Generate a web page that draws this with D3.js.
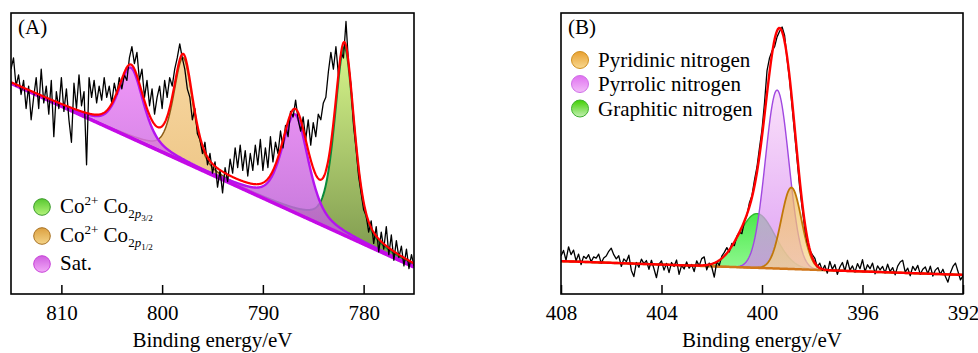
<!DOCTYPE html>
<html>
<head>
<meta charset="utf-8">
<script src="https://cdn.jsdelivr.net/npm/d3@7/dist/d3.min.js"></script>
<style>
  body { margin: 0; background: #fff; }
  svg text { font-family: "Liberation Serif", "Times New Roman", serif; fill: #000; }
</style>
</head>
<body>
<svg id="chart" width="978" height="353"></svg>
<script>
// ---------- Panel A : Co 2p ----------
const coRange = [815, 775];            // binding energy of first / last raw point
const coRaw = [
  80, 84, 74, 78, 71, 76, 66, 74, 62, 70, 77, 66, 80, 68, 74, 64, 76, 56, 72, 66,
  77, 65, 73, 62, 54, 75, 66, 78, 67, 72, 46, 77, 70, 76, 68, 74, 69, 77, 70, 74,
  68, 75, 71, 77, 73, 78, 76, 84, 88, 82, 86, 76, 80, 70, 76, 67, 73, 64, 70, 74,
  66, 76, 70, 77, 74, 80, 84, 89, 84, 80, 73, 70, 62, 66, 57, 55, 50, 54, 46, 50,
  43, 47, 38, 44, 36, 45, 40, 48, 43, 52, 45, 53, 44, 51, 42, 50, 44, 53, 46, 55,
  44, 52, 45, 56, 47, 54, 50, 58, 52, 60, 56, 65, 63, 69, 62, 58, 63, 55, 62, 53,
  61, 56, 64, 62, 68, 70, 79, 86, 80, 88, 78, 86, 84, 97, 82, 74, 60, 52, 42, 36,
  30, 28, 22, 26, 18, 24, 15, 22, 16, 24, 14, 21, 12, 19, 13, 17, 10, 16, 9, 14, 10
];
const coBackground = [75.0, 9.6];      // linear background at 815 and 775 eV
const coPeaks = [
  { key: 'p32', center: 781.9, height: 67, fwhm: 2.3 },
  { key: 'p12', center: 797.9, height: 37, fwhm: 2.3 },
  { key: 'sat', center: 803.1, height: 25, fwhm: 2.9 },
  { key: 'sat', center: 786.8, height: 35, fwhm: 3.1 }
];
const coTicks = [810, 800, 790, 780];

// ---------- Panel B : N 1s ----------
const nRange = [408, 392];
const nRaw = [
  13.5, 15.5, 12.0, 16.8, 14.0, 15.6, 11.8, 14.2, 10.5, 13.4,
  12.6, 14.0, 11.5, 13.2, 12.8, 14.2, 11.0, 12.8, 13.5, 15.2,
  16.3, 14.0, 12.5, 13.6, 9.8, 12.5, 11.5, 13.8, 8.4, 6.2,
  11.2, 9.5, 12.4, 10.8, 11.9, 8.8, 12.0, 9.0, 5.8, 10.6,
  11.8, 8.5, 10.9, 7.6, 11.2, 9.8, 12.1, 7.0, 10.2, 8.9,
  11.4, 9.2, 10.5, 8.0, 11.8, 10.0, 12.6, 13.2, 8.6, 11.0,
  9.6, 6.0, 11.5, 10.2, 13.5, 14.8, 16.5, 15.0, 18.0, 17.2,
  20.5, 22.0, 21.5, 25.8, 28.0, 32.5, 35.0, 40.5, 45.2, 52.0,
  58.5, 68.0, 79.5, 84.0, 86.5, 88.0, 91.5, 93.5, 95.0, 92.0,
  83.5, 76.0, 66.5, 57.0, 47.5, 38.0, 30.5, 23.5, 18.5, 15.5,
  14.0, 12.8, 9.6, 11.0, 8.4, 10.2, 7.4, 11.6, 8.8, 10.5,
  7.0, 9.6, 11.2, 8.2, 12.0, 8.5, 10.0, 7.8, 10.8, 9.0,
  12.2, 8.0, 10.4, 9.0, 11.0, 7.2, 10.0, 8.6, 9.8, 7.5,
  10.6, 8.0, 9.4, 6.8, 9.9, 11.4, 12.0, 7.8, 9.2, 6.5,
  9.8, 8.4, 10.2, 7.0, 8.8, 9.6, 7.2, 9.9, 6.4, 8.5,
  9.4, 7.0, 8.8, 6.2, 4.2, 7.6, 9.8, 11.0, 8.0, 5.0, 6.5
];
const nBackground = [11.7, 6.8];
const nPeaks = [
  { key: 'graphitic', center: 400.2, height: 19.3, fwhm: 1.7 },
  { key: 'pyrrolic', center: 399.4, height: 63.5, fwhm: 1.1 },
  { key: 'pyridinic', center: 398.83, height: 29, fwhm: 0.95 }
];
const nTicks = [408, 404, 400, 396, 392];

const serif = '"Liberation Serif", "Times New Roman", serif';
const svg = d3.select('#chart');
const defs = svg.append('defs');

function gradient(id, top, bottom) {
  const g = defs.append('linearGradient').attr('id', id)
    .attr('x1', 0).attr('y1', 0).attr('x2', 0).attr('y2', 1);
  g.append('stop').attr('offset', '0%').attr('stop-color', top);
  g.append('stop').attr('offset', '100%').attr('stop-color', bottom);
}
// component fills
gradient('fA_p32', '#d2f47e', '#6c8a38');
gradient('fA_p12', '#f6d090', '#e4b060');
gradient('fA_sat', '#ec84f6', '#b058cc');
gradient('fB_graphitic', '#38e838', '#8cf88c');
gradient('fB_pyrrolic', '#f8d4f8', '#d27ef0');
gradient('fB_pyridinic', '#f0be58', '#f8d894');
// legend dots
gradient('lA_p32', '#58c830', '#b4f47a');
gradient('lA_p12', '#dca040', '#f4d488');
gradient('lA_sat', '#d060e0', '#f2a8f8');
gradient('lB_pyridinic', '#e8a030', '#f8d890');
gradient('lB_pyrrolic', '#e070f0', '#f2bcf8');
gradient('lB_graphitic', '#40d000', '#c4f0b4');

function pseudoVoigt(e, p, eta) {
  const d = e - p.center, hw = p.fwhm / 2;
  const gauss = Math.exp(-Math.LN2 * (d / hw) * (d / hw));
  const lor = 1 / (1 + (d / hw) * (d / hw));
  return p.height * (eta * lor + (1 - eta) * gauss);
}

function drawPanel(cfg) {
  const x = d3.scaleLinear().domain(cfg.range).range([cfg.left, cfg.right]);
  const y = d3.scaleLinear().domain([0, 100]).range([294, 13]);
  const bg = d3.scaleLinear().domain(cfg.range).range(cfg.background);
  const g = svg.append('g');

  const clipId = 'clip' + cfg.id;
  defs.append('clipPath').attr('id', clipId).append('rect')
    .attr('x', cfg.left).attr('y', 13).attr('width', cfg.right - cfg.left).attr('height', 281);
  const plot = g.append('g').attr('clip-path', `url(#${clipId})`);

  const lo = Math.min(...cfg.range), hi = Math.max(...cfg.range);
  const grid = d3.range(hi, lo - 0.001, -0.04);

  // fitted components
  cfg.peaks.forEach(p => {
    const st = cfg.styles[p.key];
    const pts = grid.map(e => ({ e, b: bg(e), v: pseudoVoigt(e, p, cfg.eta) }));
    plot.append('path').datum(pts)
      .attr('fill', `url(#f${cfg.id}_${p.key})`)
      .attr('fill-opacity', st.opacity)
      .attr('d', d3.area().x(d => x(d.e)).y0(d => y(d.b)).y1(d => y(d.b + d.v)));
    plot.append('path').datum(pts)
      .attr('fill', 'none').attr('stroke', st.stroke).attr('stroke-width', st.width)
      .attr('d', d3.line().x(d => x(d.e)).y(d => y(d.b + d.v)));
  });

  // background line
  plot.append('path').datum(grid)
    .attr('fill', 'none').attr('stroke', cfg.bgColor).attr('stroke-width', cfg.bgWidth)
    .attr('d', d3.line().x(e => x(e)).y(e => y(bg(e))));

  // raw spectrum
  const rawE = d3.scaleLinear().domain([0, cfg.raw.length - 1]).range(cfg.range);
  plot.append('path').datum(cfg.raw)
    .attr('fill', 'none').attr('stroke', '#000').attr('stroke-width', 1.3)
    .attr('stroke-linejoin', 'round')
    .attr('d', d3.line().x((v, i) => x(rawE(i))).y(v => y(v)));

  // envelope
  plot.append('path').datum(grid)
    .attr('fill', 'none').attr('stroke', '#ff0000').attr('stroke-width', cfg.envWidth)
    .attr('d', d3.line().x(e => x(e))
      .y(e => y(bg(e) + d3.sum(cfg.peaks, p => pseudoVoigt(e, p, cfg.eta)))));

  // frame + axis
  const axis = g.append('g').attr('transform', 'translate(0,294)')
    .call(d3.axisBottom(x).tickValues(cfg.ticks).tickSize(-9).tickPadding(11).tickFormat(d3.format('d')));
  axis.attr('font-family', null).attr('font-size', null)
    .style('font-family', serif).style('font-size', '21px');
  axis.select('.domain').remove();
  axis.selectAll('.tick line').attr('stroke', '#000').attr('stroke-width', 1.5);
  axis.selectAll('.tick text').attr('fill', '#000')
    .style('font-family', serif).style('font-size', '21px');
  g.append('rect').attr('x', cfg.left).attr('y', 13)
    .attr('width', cfg.right - cfg.left).attr('height', 281)
    .attr('fill', 'none').attr('stroke', '#000').attr('stroke-width', 1.6);

  g.append('text').attr('x', (cfg.left + cfg.right) / 2).attr('y', 347)
    .attr('text-anchor', 'middle').attr('font-size', 21).text('Binding energy/eV');
  g.append('text').attr('x', cfg.left + 7).attr('y', 34)
    .attr('font-size', 21).text(cfg.label);
  return g;
}

const gA = drawPanel({
  id: 'A', label: '(A)', left: 11, right: 414,
  range: coRange, raw: coRaw, background: coBackground, peaks: coPeaks, ticks: coTicks,
  eta: 0.5, bgColor: '#c40ae6', bgWidth: 3.5, envWidth: 2.2,
  styles: {
    p32: { stroke: '#0a8a3a', width: 2, opacity: 0.9 },
    p12: { stroke: '#8a5a14', width: 1.5, opacity: 0.85 },
    sat: { stroke: '#b414ee', width: 2.4, opacity: 0.85 }
  }
});

const gB = drawPanel({
  id: 'B', label: '(B)', left: 561, right: 963,
  range: nRange, raw: nRaw, background: nBackground, peaks: nPeaks, ticks: nTicks,
  eta: 0, bgColor: '#d0761a', bgWidth: 2.5, envWidth: 2.4,
  styles: {
    graphitic: { stroke: '#2eb82e', width: 1.4, opacity: 0.9 },
    pyrrolic: { stroke: '#a048e0', width: 1.4, opacity: 0.72 },
    pyridinic: { stroke: '#c07808', width: 1.8, opacity: 0.7 }
  }
});

// ---------- legends ----------
const legA = [
  { key: 'p32', stroke: '#3a9a2a', sub: '3/2' },
  { key: 'p12', stroke: '#a87020', sub: '1/2' },
  { key: 'sat', stroke: '#c840d8', sub: null }
];
const legAy = [207, 236, 264];
legA.forEach((d, i) => {
  gA.append('circle').attr('cx', 42).attr('cy', legAy[i]).attr('r', 8.3)
    .attr('fill', `url(#lA_${d.key})`).attr('stroke', d.stroke).attr('stroke-width', 1);
  const t = gA.append('text').attr('x', 60).attr('y', legAy[i] + 6).attr('font-size', 21);
  if (!d.sub) { t.text('Sat.'); return; }
  t.append('tspan').text('Co');
  t.append('tspan').attr('font-size', 13).attr('dy', -8).text('2+');
  t.append('tspan').attr('dy', 8).text(' Co');
  t.append('tspan').attr('font-size', 13).attr('dy', 5).text('2');
  t.append('tspan').attr('font-size', 13).attr('font-style', 'italic').text('p');
  t.append('tspan').attr('font-size', 9).attr('dy', 3).text(d.sub);
});

const legB = [
  { key: 'pyridinic', stroke: '#d09020', name: 'Pyridinic nitrogen' },
  { key: 'pyrrolic', stroke: '#d070e8', name: 'Pyrrolic nitrogen' },
  { key: 'graphitic', stroke: '#40b030', name: 'Graphitic nitrogen' }
];
const legBy = [60, 84, 108.5];
legB.forEach((d, i) => {
  gB.append('circle').attr('cx', 580).attr('cy', legBy[i]).attr('r', 8.5)
    .attr('fill', `url(#lB_${d.key})`).attr('stroke', d.stroke).attr('stroke-width', 1);
  gB.append('text').attr('x', 598).attr('y', legBy[i] + 7).attr('font-size', 21).text(d.name);
});
</script>
</body>
</html>
